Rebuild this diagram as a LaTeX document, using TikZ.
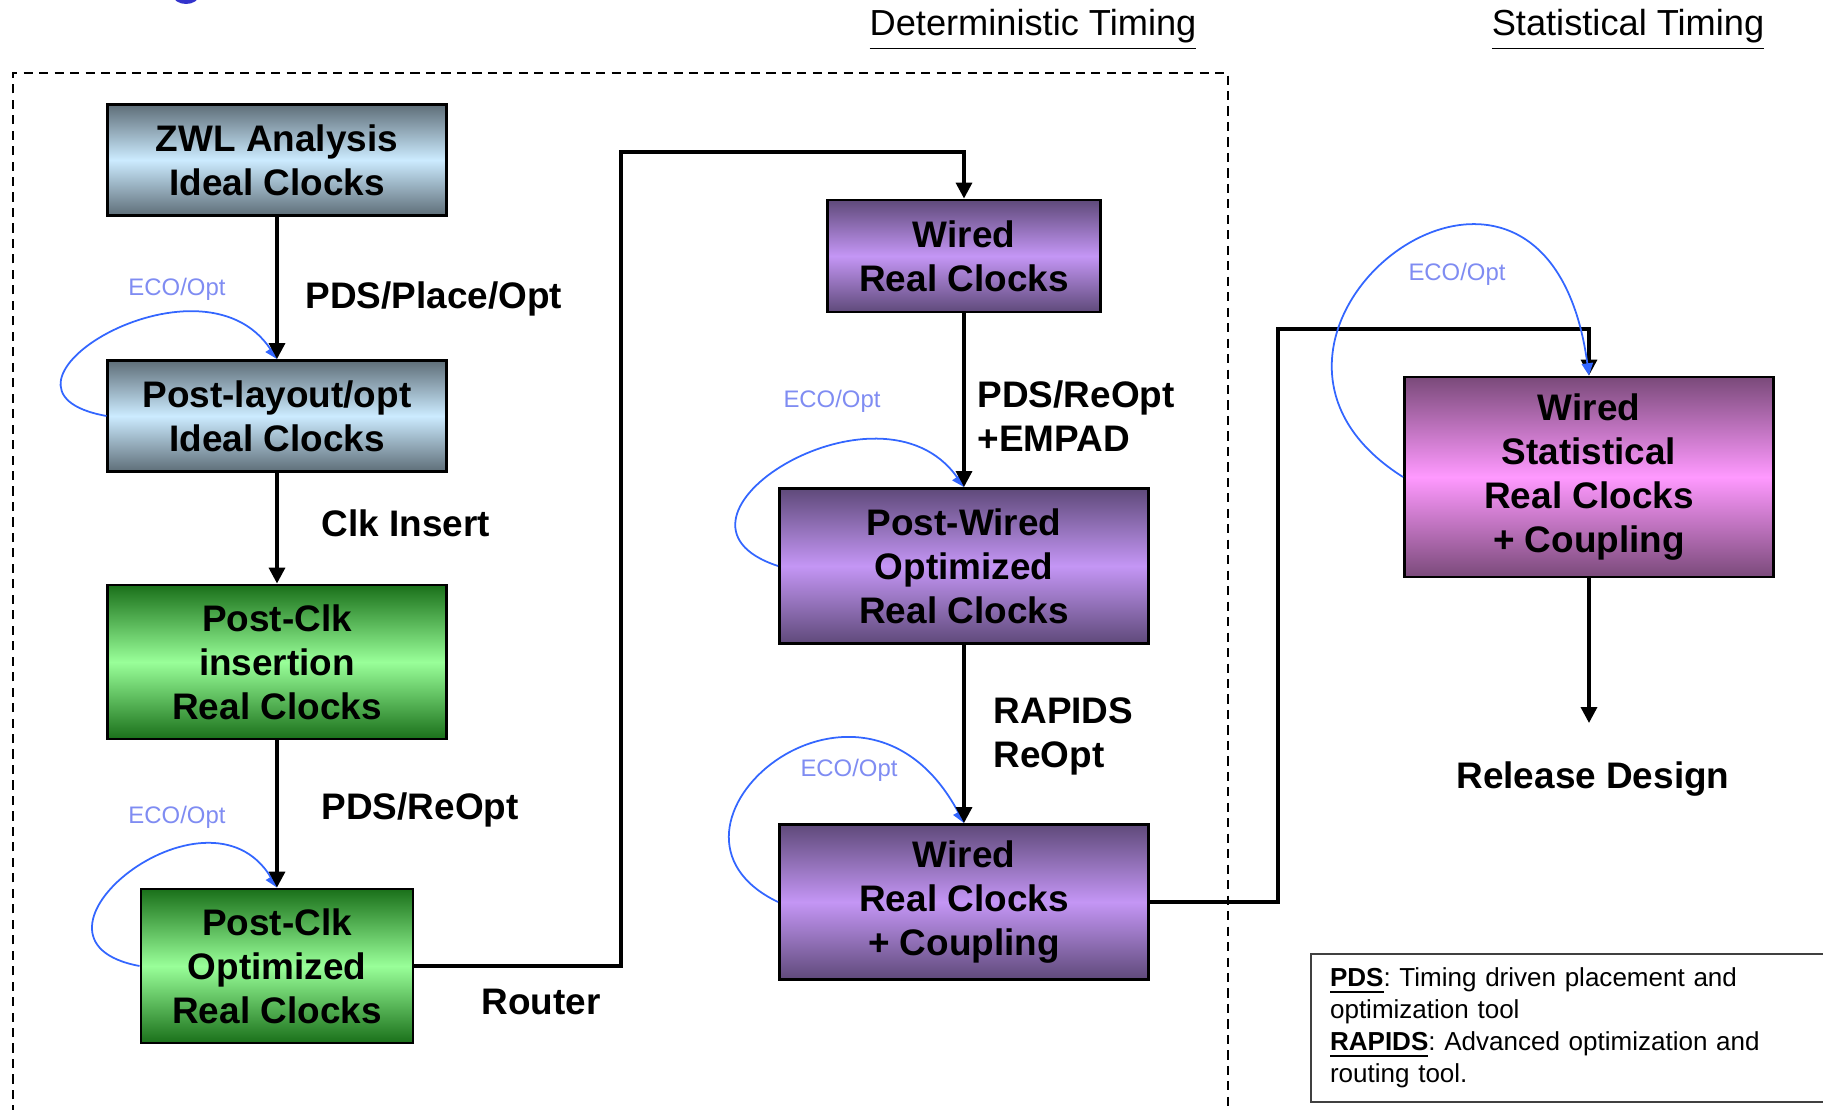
\documentclass[tikz,border=0pt]{standalone}
\usepackage{fontspec}
\setmainfont{Liberation Sans}
\usetikzlibrary{arrows.meta}
\definecolor{ideal-dark}{HTML}{5E6E78}
\definecolor{ideal-light}{HTML}{CCEBFF}
\definecolor{clk-dark}{HTML}{1A701A}
\definecolor{clk-light}{HTML}{99FF99}
\definecolor{wire-dark}{HTML}{5F4A7A}
\definecolor{wire-light}{HTML}{C496F5}
\definecolor{stat-dark}{HTML}{7A4A7A}
\definecolor{stat-light}{HTML}{FF99FF}
\definecolor{loop-blue}{HTML}{3366FF}
\definecolor{eco-blue}{HTML}{7F8CF2}
\definecolor{dot-blue}{HTML}{3333CC}
\frenchspacing

\begin{document}
\begin{tikzpicture}[x=0.01cm, y=-0.01cm,
    stage/.style={draw, line width=0.8pt, align=center, inner sep=0pt, font=\fontsize{10.5}{12.5}\selectfont\bfseries},
    ideal/.style={stage, top color=ideal-dark, bottom color=ideal-dark, middle color=ideal-light},
    clk/.style={stage, top color=clk-dark, bottom color=clk-dark, middle color=clk-light},
    wire/.style={stage, top color=wire-dark, bottom color=wire-dark, middle color=wire-light},
    stat/.style={stage, top color=stat-dark, bottom color=stat-dark, middle color=stat-light},
    toollabel/.style={align=left, inner sep=0pt, font=\fontsize{10.5}{12.5}\selectfont\bfseries},
    heading/.style={inner sep=0pt, font=\fontsize{10.3}{12}\selectfont},
    flow/.style={-{Triangle[width=4.5pt,length=4.5pt]}, line width=1pt},
    eco/.style={-{Triangle[width=3.2pt,length=3.5pt]}, loop-blue, line width=0.5pt},
    ecolabel/.style={eco-blue, inner sep=0pt, font=\fontsize{6.8}{8}\selectfont}]
    \useasboundingbox (0,0) rectangle (1823,1110);

    % Cut-off title
    \fill[dot-blue] (186,-5) ellipse [x radius=0.13cm, y radius=0.09cm];

    % Headings
    \node[heading, anchor=base] (dethead) at (1033,36) {\underline{Deterministic Timing}};
    \node[heading, anchor=base] (stathead) at (1628,36) {\underline{Statistical Timing}};

    % Deterministic region
    \draw[line width=0.45pt, dash pattern=on 2.6pt off 1.8pt] (13,1130) |- (1228,73) -- (1228,1130);

    % Ideal clocks
    \node[ideal, minimum width=3.38cm, minimum height=1.11cm] (zwl) at (277,160) {ZWL Analysis\\Ideal Clocks};
    \node[ideal, minimum width=3.38cm, minimum height=1.11cm] (postlay) at (277,416) {Post-layout/opt\\Ideal Clocks};

    % Real clocks
    \node[clk, minimum width=3.38cm, minimum height=1.54cm] (clkins) at (277,662) {Post-Clk\\insertion\\Real Clocks};
    \node[clk, minimum width=2.72cm, minimum height=1.54cm] (clkopt) at (277,966) {Post-Clk\\Optimized\\Real Clocks};

    % Wired
    \node[wire, minimum width=2.73cm, minimum height=1.12cm] (wired) at (964,256) {Wired\\Real Clocks};
    \node[wire, minimum width=3.69cm, minimum height=1.55cm] (postwired) at (964,566) {Post-Wired\\Optimized\\Real Clocks};
    \node[wire, minimum width=3.69cm, minimum height=1.55cm] (coupled) at (964,902) {Wired\\Real Clocks\\+ Coupling};

    % Statistical
    \node[stat, minimum width=3.69cm, minimum height=2.00cm] (statwired) at (1589,477) {Wired\\Statistical\\Real Clocks\\+ Coupling};

    % Tool labels
    \node[toollabel, anchor=west] (placeopt) at (305,299) {PDS/Place/Opt};
    \node[toollabel, anchor=west] (clkinsert) at (321,523) {Clk Insert};
    \node[toollabel, anchor=west] (reopt) at (321,810) {PDS/ReOpt};
    \node[toollabel, anchor=west] (router) at (481,1002) {Router};
    \node[toollabel, anchor=west] (empad) at (977,416) {PDS/ReOpt\\+EMPAD};
    \node[toollabel, anchor=west] (rapids) at (993,736) {RAPIDS\\ReOpt};
    \node[toollabel] (release) at (1593,779) {Release Design};

    % ECO loops
    \node[ecolabel] (eco1) at (177,289) {ECO/Opt};
    \node[ecolabel] (eco2) at (177,817) {ECO/Opt};
    \node[ecolabel] (eco3) at (832,401) {ECO/Opt};
    \node[ecolabel] (eco4) at (849,770) {ECO/Opt};
    \node[ecolabel] (eco5) at (1457,274) {ECO/Opt};
    \draw[eco] (postlay.west) .. controls +(-145,-26) and +(-77,-116) .. (postlay.north);
    \draw[eco] (clkopt.west) .. controls +(-140,-26) and +(-70,-116) .. (clkopt.north);
    \draw[eco] (postwired.west) .. controls +(-140,-46) and +(-84,-119) .. (postwired.north);
    \draw[eco] (coupled.west) .. controls +(-150,-72) and +(-104,-195) .. (coupled.north);

    % Flow
    \coordinate (routeup) at (621,152);
    \coordinate (couplingup) at (1278,329);
    \coordinate (done) at (1589,723);
    \draw[flow] (zwl) -- (postlay);
    \draw[flow] (postlay) -- (clkins);
    \draw[flow] (clkins) -- (clkopt);
    \draw[flow] (clkopt.east) -| (routeup) -| (wired.north);
    \draw[flow] (wired) -- (postwired);
    \draw[flow] (postwired) -- (coupled);
    \draw[flow] (coupled.east) -| (couplingup) -| (statwired.north);
    \draw[flow] (statwired) -- (done);
    \draw[eco] (statwired.west) .. controls +(-222,-140) and +(-44,-322) .. (statwired.north);

    % Legend
    \node[draw=black!75, line width=0.6pt, anchor=north west, minimum height=1.48cm, text width=4.75cm, inner xsep=0.19cm, align=left, font=\fontsize{7.4}{9.1}\selectfont] (legend) at (1310,953)
        {\underline{\textbf{PDS}}: Timing driven placement and\\optimization tool\\\underline{\textbf{RAPIDS}}: Advanced optimization and\\routing tool.};
\end{tikzpicture}
\end{document}
